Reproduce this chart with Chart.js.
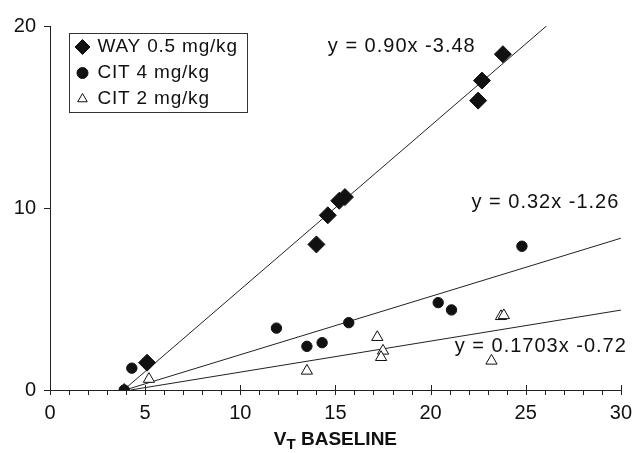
<!DOCTYPE html>
<html>
<head>
<meta charset="utf-8">
<script src="https://cdn.jsdelivr.net/npm/chart.js@4"></script>
<style>
  html, body { margin: 0; padding: 0; background: #fff; }
  #wrap { width: 643px; height: 453px; }
</style>
</head>
<body>
<div id="wrap"><canvas id="chart"></canvas></div>
<script>
// measured points
const wayX = [5.1, 14.0, 14.6, 15.2, 15.5, 22.5, 22.7, 23.8];
const wayY = [1.5, 8.0, 9.6, 10.4, 10.6, 15.9, 17.0, 18.45];
const cit4X = [3.9, 4.3, 11.9, 13.5, 14.3, 15.7, 20.4, 21.1, 24.8];
const cit4Y = [0, 1.2, 3.4, 2.4, 2.6, 3.7, 4.8, 4.4, 7.9];
const cit2X = [3.9, 5.2, 13.5, 17.2, 17.5, 17.4, 23.2, 23.7, 23.85];
const cit2Y = [0, 0.6, 1.05, 2.9, 2.15, 1.8, 1.6, 4.05, 4.1];

// regression line ends (x, y)
const wayFitX = [3.87, 26.09];
const wayFitY = [0, 20];
const cit4FitX = [3.94, 30];
const cit4FitY = [0, 8.34];
const cit2FitX = [4.23, 30];
const cit2FitY = [0, 4.39];

const seriesNames = ['WAY 0.5 mg/kg', 'CIT 4 mg/kg', 'CIT 2 mg/kg'];
const equations = ['y = 0.90x -3.48', 'y = 0.32x -1.26', 'y = 0.1703x -0.72'];
const xTicks = [0, 5, 10, 15, 20, 25, 30];
const yTicks = [0, 10, 20];

const FONT = '"Liberation Sans", Arial, Helvetica, sans-serif';
Chart.defaults.font.family = FONT;
Chart.defaults.color = '#111';

function pts(xs, ys) {
    return xs.map((x, i) => ({ x: x, y: ys[i] }));
}

// order: lower number is drawn on top
const markers = [
    { pointStyle: 'rectRot', radius: 8.5, fill: '#111', order: 2 },
    { pointStyle: 'circle', radius: 5.2, fill: '#111', order: 1 },
    { pointStyle: 'triangle', radius: 6.5, fill: '#fff', order: 3 }
];

function fitLine(xs, ys) {
    return {
        type: 'line',
        data: pts(xs, ys),
        showLine: true,
        borderColor: '#222',
        borderWidth: 1,
        pointRadius: 0,
        fill: false,
        order: 10
    };
}

function scatterSet(i, xs, ys) {
    return {
        label: seriesNames[i],
        data: pts(xs, ys),
        pointStyle: markers[i].pointStyle,
        pointRadius: markers[i].radius,
        pointBackgroundColor: markers[i].fill,
        pointBorderColor: '#111',
        pointBorderWidth: 1,
        showLine: false,
        order: markers[i].order
    };
}

// axes ticks, legend box, equations and axis title
const decorations = {
    id: 'decorations',
    afterDraw(chart) {
        const ctx = chart.ctx;
        const xs = chart.scales.x, ys = chart.scales.y;
        const area = chart.chartArea;
        ctx.save();
        ctx.strokeStyle = '#222';
        ctx.lineWidth = 1;
        ctx.beginPath();
        yTicks.forEach(v => {
            const py = Math.round(ys.getPixelForValue(v)) + 0.5;
            ctx.moveTo(area.left - 6, py);
            ctx.lineTo(area.left, py);
        });
        for (let v = 0; v <= 30; v++) {
            const px = Math.round(xs.getPixelForValue(v)) + 0.5;
            const major = v % 5 === 0;
            ctx.moveTo(px, area.bottom + 5);
            ctx.lineTo(px, major ? area.bottom - 5 : area.bottom);
        }
        ctx.stroke();

        // legend
        const bx = area.left + 19.5, by = area.top + 7.5, bw = 178, bh = 79;
        ctx.fillStyle = '#fff';
        ctx.fillRect(bx, by, bw, bh);
        ctx.strokeStyle = '#333';
        ctx.strokeRect(bx, by, bw, bh);
        ctx.font = '19px ' + FONT;
        ctx.letterSpacing = '0.8px';
        ctx.textBaseline = 'middle';
        ctx.textAlign = 'left';
        const legendSizes = [7.5, 5.5, 5.5];
        seriesNames.forEach((name, i) => {
            const cy = by + 13.5 + i * 26;
            ctx.fillStyle = markers[i].fill;
            ctx.strokeStyle = '#111';
            Chart.helpers.drawPoint(ctx, {
                pointStyle: markers[i].pointStyle,
                radius: legendSizes[i],
                rotation: 0,
                borderWidth: 1
            }, bx + 13, cy);
            ctx.fillStyle = '#111';
            ctx.fillText(name, bx + 28, cy);
        });

        // equations
        ctx.font = '20px ' + FONT;
        ctx.letterSpacing = '1px';
        const eqPos = [[14.6, 18.9], [22.15, 10.3], [21.27, 2.41]];
        equations.forEach((t, i) => {
            ctx.fillText(t, xs.getPixelForValue(eqPos[i][0]), ys.getPixelForValue(eqPos[i][1]));
        });

        // axis title with subscript
        ctx.letterSpacing = '0px';
        ctx.textBaseline = 'alphabetic';
        const big = 'bold 19px ' + FONT, small = 'bold 15px ' + FONT;
        ctx.font = big;
        const wV = ctx.measureText('V').width;
        const wRest = ctx.measureText(' BASELINE').width;
        ctx.font = small;
        const wT = ctx.measureText('T').width;
        const total = wV + wT + wRest;
        let tx = (area.left + area.right) / 2 - total / 2;
        const base = 445;
        ctx.font = big;
        ctx.fillText('V', tx, base);
        tx += wV;
        ctx.font = small;
        ctx.fillText('T', tx, base + 4);
        tx += wT;
        ctx.font = big;
        ctx.fillText(' BASELINE', tx, base);
        ctx.restore();
    }
};

new Chart(document.getElementById('chart'), {
    type: 'scatter',
    data: {
        datasets: [
            scatterSet(0, wayX, wayY),
            scatterSet(1, cit4X, cit4Y),
            scatterSet(2, cit2X, cit2Y),
            fitLine(wayFitX, wayFitY),
            fitLine(cit4FitX, cit4FitY),
            fitLine(cit2FitX, cit2FitY)
        ]
    },
    options: {
        responsive: true,
        maintainAspectRatio: false,
        animation: false,
        layout: { padding: { top: 17, right: 20, left: 0, bottom: 0 } },
        plugins: {
            legend: { display: false },
            tooltip: { enabled: false }
        },
        scales: {
            x: {
                type: 'linear',
                min: 0,
                max: 30,
                afterFit(scale) { scale.height = 63; },
                afterBuildTicks(scale) { scale.ticks = xTicks.map(v => ({ value: v })); },
                grid: { display: false, drawTicks: false },
                border: { display: true, color: '#222', width: 1 },
                ticks: { font: { size: 20 }, padding: 11, maxRotation: 0 }
            },
            y: {
                type: 'linear',
                min: 0,
                max: 20,
                afterFit(scale) { scale.width = 50; },
                afterBuildTicks(scale) { scale.ticks = yTicks.map(v => ({ value: v })); },
                grid: { display: false, drawTicks: false },
                border: { display: true, color: '#222', width: 1 },
                ticks: { font: { size: 20 }, padding: 14 }
            }
        }
    },
    plugins: [decorations]
});
</script>
</body>
</html>
